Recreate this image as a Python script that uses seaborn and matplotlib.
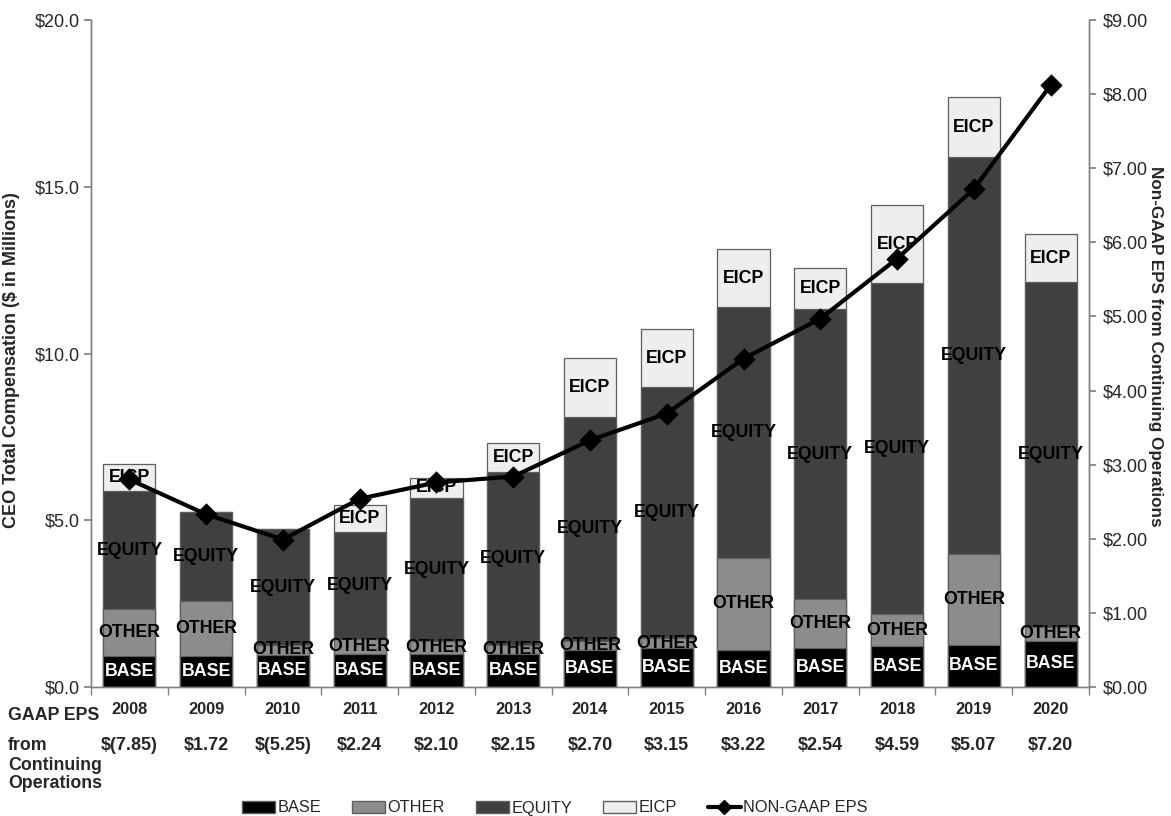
import numpy as np
import pandas as pd
import matplotlib
matplotlib.use("Agg")
import matplotlib.pyplot as plt
import seaborn as sns
from matplotlib.patches import Patch
from matplotlib.lines import Line2D
from matplotlib.ticker import FuncFormatter

# ---- data ----
years = ["2008", "2009", "2010", "2011", "2012", "2013", "2014",
         "2015", "2016", "2017", "2018", "2019", "2020"]
base = [0.94, 0.94, 0.97, 1.00, 1.00, 1.00, 1.10, 1.16, 1.11, 1.18, 1.23, 1.26, 1.39]
other = [1.39, 1.65, 0.28, 0.43, 0.39, 0.26, 0.29, 0.31, 2.77, 1.45, 0.95, 2.72, 0.42]
equity = [3.55, 2.65, 3.49, 3.21, 4.29, 5.20, 6.71, 7.53, 7.50, 8.69, 9.92, 11.90, 10.34]
eicp = [0.81, 0.00, 0.00, 0.82, 0.58, 0.85, 1.76, 1.73, 1.75, 1.23, 2.35, 1.82, 1.42]
non_gaap_eps = [2.80, 2.33, 1.99, 2.54, 2.76, 2.84, 3.33, 3.69, 4.43, 4.97, 5.78, 6.72, 8.12]
gaap_eps_labels = ["$(7.85)", "$1.72", "$(5.25)", "$2.24", "$2.10", "$2.15", "$2.70",
                   "$3.15", "$3.22", "$2.54", "$4.59", "$5.07", "$7.20"]
series_names = ["BASE", "OTHER", "EQUITY", "EICP"]

colors = {"BASE": "#000000", "OTHER": "#8c8c8c", "EQUITY": "#404040", "EICP": "#eeeeee"}
edge = "#5f5f5f"

sns.set_theme(style="white")
plt.rcParams['font.family'] = ['Liberation Sans', 'DejaVu Sans']

W, H = 1171, 816
fig = plt.figure(figsize=(W / 100, H / 100), dpi=100)
ax = fig.add_axes([91 / W, 1 - 687 / H, (1089 - 91) / W, (687 - 20) / H])

df = pd.DataFrame({"year": years, "BASE": base, "OTHER": other,
                   "EQUITY": equity, "EICP": eicp})
df["top_BASE"] = df["BASE"]
df["top_OTHER"] = df["top_BASE"] + df["OTHER"]
df["top_EQUITY"] = df["top_OTHER"] + df["EQUITY"]
df["top_EICP"] = df["top_EQUITY"] + df["EICP"]

# draw stacked bars from the tallest cumulative layer down
for name in reversed(series_names):
    sns.barplot(data=df, x="year", y="top_" + name, color=colors[name],
                saturation=1, width=0.68, edgecolor=edge, linewidth=0.9, ax=ax)

# segment labels
for i, row in df.iterrows():
    bottom = 0.0
    for name in series_names:
        v = row[name]
        if v > 0:
            ax.text(i, bottom + v / 2, name, ha="center", va="center",
                    fontsize=12.8, fontweight="bold",
                    color="white" if name == "BASE" else "black", zorder=6)
        bottom += v

ax.set_ylim(0, 20)
ax.set_yticks([0, 5, 10, 15, 20])
ax.yaxis.set_major_formatter(FuncFormatter(lambda v, p: f"${v:.1f}"))
ax.set_ylabel("CEO Total Compensation ($ in Millions)", fontsize=13,
              fontweight="bold")
ax.yaxis.set_label_coords((20 - 91) / 998, 1 - (360 - 20) / 667)

# line on secondary axis
ax2 = ax.twinx()
sns.pointplot(x=years, y=non_gaap_eps, color="black", markers="D",
              linestyles="-", markersize=9, linewidth=3, ax=ax2, zorder=7)
ax2.set_ylim(0, 9)
ax2.set_yticks(range(0, 10))
ax2.yaxis.set_major_formatter(FuncFormatter(lambda v, p: f"${v:.2f}"))
ax2.set_ylabel("Non-GAAP EPS from Continuing Operations", fontsize=12.3,
               fontweight="bold", rotation=270, va="center", ha="center")
ax2.yaxis.set_label_coords((1155 - 91) / 998, 1 - (346 - 20) / 667)

ax.set_xlim(-0.5, len(years) - 0.5)
ax.set_xticks(range(len(years)))
ax.set_xticklabels([""] * len(years))
ax.set_xticks(np.arange(-0.5, len(years), 1), minor=True)
ax.tick_params(axis="x", which="major", length=0)
ax.tick_params(axis="x", which="minor", bottom=True, length=6, direction="out",
               color="#808080", width=1)
ax.set_xlabel("")

ax.tick_params(axis="y", left=True, length=5, direction="out", color="#808080",
               labelsize=13, pad=3)
ax2.tick_params(axis="y", right=True, length=5, direction="out", color="#808080",
                labelsize=13, pad=5)

for a in (ax, ax2):
    a.spines["top"].set_visible(False)
    for s in ("left", "right", "bottom"):
        a.spines[s].set_color("#808080")
        a.spines[s].set_linewidth(1)
    a.grid(False)

# year labels and GAAP EPS row
xt = ax.get_xaxis_transform()
for i, (y, g) in enumerate(zip(years, gaap_eps_labels)):
    ax.text(i, -(710 - 687) / 667, y, transform=xt, ha="center", va="center",
            fontsize=11.8, fontweight="bold")
    ax.text(i, -(745 - 687) / 667, g, transform=xt, ha="center", va="center",
            fontsize=13, fontweight="bold")

for txt, yy in [("GAAP EPS", 716), ("from", 745), ("Continuing", 765),
                ("Operations", 784)]:
    fig.text(8 / W, 1 - yy / H, txt, ha="left", va="center", fontsize=12.8,
             fontweight="bold")

handles = [Patch(facecolor=colors[n], edgecolor=edge, label=n) for n in series_names]
handles.append(Line2D([0], [0], color="black", lw=3, marker="D", markersize=7,
                      label="NON-GAAP EPS"))
fig.legend(handles=handles, loc="center", bbox_to_anchor=(555 / W, 1 - 808 / H),
           ncol=5, frameon=False, fontsize=11.8, handlelength=2.0,
           handleheight=0.7, handletextpad=0.15, columnspacing=1.9)

fig.savefig("out.png", dpi=100)
